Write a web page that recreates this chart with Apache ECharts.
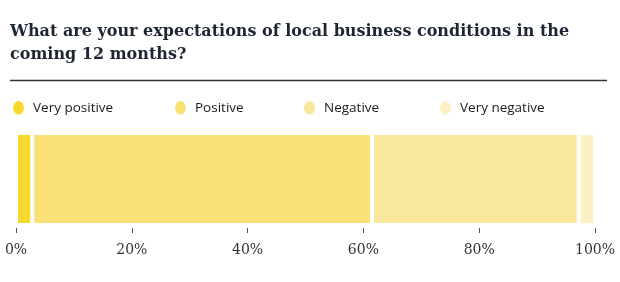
<!DOCTYPE html>
<html><head><meta charset="utf-8">
<script src="https://cdn.jsdelivr.net/npm/echarts@6/dist/echarts.min.js"></script>
<style>html,body{margin:0;padding:0;background:#fff}#c{width:620px;height:282px}</style>
</head><body><div id="c"></div>
<script>
const categories = ['All'];
const seriesNames = ['Very positive', 'Positive', 'Negative', 'Very negative'];
const veryPositive = [2.8];
const positive = [58.7];
const negative = [35.7];
const veryNegative = [2.8];
const tickLabels = ['0%', '20%', '40%', '60%', '80%', '100%'];

const colors = ['#F7D92E', '#F9E175', '#F9E89C', '#FCF1C3'];
const values = [veryPositive, positive, negative, veryNegative];
const ellipse = 'path://M50,0A50,60,0,1,1,50,120A50,60,0,1,1,50,0Z';
const legendLefts = [11, 173, 302, 438];

const chart = echarts.init(document.getElementById('c'), null, {renderer: 'canvas'});
chart.setOption({
  animation: false,
  title: {
    text: 'What are your expectations of local business conditions in the\ncoming 12 months?',
    left: 5, top: 15,
    textStyle: {fontFamily: 'DejaVu Serif', fontSize: 16, fontWeight: 'bold', color: '#1e2533', lineHeight: 23}
  },
  graphic: [{
    type: 'line', shape: {x1: 10, y1: 80.5, x2: 607, y2: 80.5},
    style: {stroke: '#333', lineWidth: 1.5}
  }],
  legend: seriesNames.map((n, i) => ({
    data: [n], left: legendLefts[i], top: 99, icon: ellipse, padding: 0,
    itemWidth: 13, itemHeight: 16, itemGap: 0,
    textStyle: {fontFamily: 'Open Sans', fontSize: 13.5, color: '#1a1a1a', padding: [0, 0, 0, 3]},
    selectedMode: false
  })),
  grid: {left: 16, right: 25, top: 133, height: 92},
  xAxis: {
    type: 'value', min: 0, max: 100, interval: 20, offset: 3,
    axisLine: {show: true, lineStyle: {color: 'rgba(0,0,0,0)'}},
    axisTick: {show: true, length: 5, lineStyle: {color: '#555', width: 1}},
    splitLine: {show: false},
    axisLabel: {
      formatter: (v) => tickLabels[Math.round(v / 20)],
      margin: 15, fontFamily: 'DejaVu Serif', fontSize: 14, color: '#333'
    }
  },
  yAxis: {type: 'category', data: categories, show: false},
  series: seriesNames.map((n, i) => ({
    name: n, type: 'bar', stack: 'total', data: values[i], barWidth: 92,
    itemStyle: {color: colors[i], borderColor: '#fff', borderWidth: 2}
  }))
});
</script></body></html>
